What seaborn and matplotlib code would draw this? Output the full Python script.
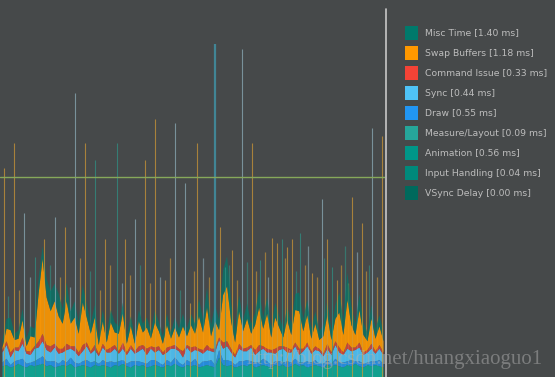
import numpy as np
import matplotlib
matplotlib.use("Agg")
import matplotlib.pyplot as plt
import seaborn as sns
from matplotlib.patches import Rectangle

# per-frame GPU timings (ms), stacked bottom -> top
animation = [0.9,1.0,0.8,0.9,1.1,0.9,0.8,1.0,0.9,1.0, 1.1,0.9,1.0,0.8,0.9,1.0,0.9,1.1,0.8,0.9,
             1.0,0.9,0.8,1.0,0.9,1.0,0.9,0.8,1.0,0.9, 1.1,0.9,0.8,1.0,0.9,1.0,0.8,0.9,1.0,0.9,
             0.8,1.0,0.9,1.1,0.9,0.8,1.0,0.9,1.0,0.8, 0.9,1.0,0.9,0.8,1.6,1.0,0.9,1.0,0.8,0.9,
             1.0,0.9,1.1,0.8,0.9,1.0,0.9,0.8,1.0,0.9, 1.0,0.8,0.9,1.1,0.9,1.0,0.8,0.9,1.0,0.9,
             0.8,1.0,0.9,1.0,0.9,0.8,1.0,0.9,1.1,0.9, 0.8,1.0,0.9,1.0,0.9,0.8]
draw = [0.3,0.5,0.2,0.4,0.3,0.6,0.3,0.2,0.4,0.5, 0.6,0.4,0.3,0.5,0.2,0.4,0.3,0.5,0.4,0.2,
        0.3,0.5,0.4,0.3,0.2,0.4,0.3,0.5,0.2,0.4, 0.3,0.2,0.5,0.3,0.4,0.2,0.3,0.5,0.4,0.3,
        0.2,0.4,0.3,0.5,0.3,0.2,0.4,0.3,0.5,0.2, 0.4,0.3,0.5,0.2,0.6,0.4,0.5,0.3,0.2,0.4,
        0.3,0.5,0.2,0.4,0.3,0.5,0.4,0.2,0.3,0.4, 0.2,0.5,0.3,0.4,0.3,0.2,0.5,0.3,0.4,0.2,
        0.3,0.4,0.2,0.5,0.3,0.4,0.3,0.5,0.2,0.4, 0.3,0.2,0.4,0.3,0.5,0.3]
sync = [0.8,1.1,0.6,0.9,0.7,1.2,0.8,0.6,1.0,0.9, 1.2,0.9,0.7,1.1,0.8,0.6,1.0,0.7,0.9,0.6,
        0.8,1.1,0.7,0.9,0.6,1.0,0.8,0.7,1.1,0.6, 0.9,0.7,1.0,0.6,0.8,1.1,0.7,0.9,0.6,1.0,
        0.8,0.6,1.1,0.7,0.9,0.6,1.0,0.8,0.7,1.1, 0.6,0.9,0.7,1.0,0.8,0.9,1.1,0.7,0.6,1.0,
        0.8,0.7,1.1,0.6,0.9,0.8,0.7,1.0,0.6,0.9, 1.1,0.7,0.8,1.0,0.6,0.9,1.2,0.7,0.8,1.0,
        0.6,0.9,0.7,1.1,0.8,0.6,1.0,0.7,0.9,1.1, 0.7,0.8,1.0,0.6,0.9,0.7]
command = [0.2,0.3,0.4,0.2,0.3,0.5,0.2,0.3,0.2,0.5, 0.6,0.4,0.5,0.3,0.4,0.3,0.5,0.2,0.4,0.3,
           0.5,0.3,0.2,0.4,0.2,0.3,0.2,0.4,0.3,0.2, 0.5,0.2,0.3,0.2,0.4,0.3,0.5,0.2,0.4,0.3,
           0.2,0.4,0.2,0.3,0.2,0.5,0.2,0.4,0.3,0.2, 0.3,0.4,0.2,0.3,0.2,0.5,0.4,0.3,0.2,0.4,
           0.2,0.3,0.2,0.4,0.5,0.2,0.3,0.2,0.4,0.3, 0.2,0.4,0.2,0.3,0.5,0.2,0.3,0.2,0.3,0.2,
           0.2,0.4,0.2,0.3,0.4,0.2,0.5,0.3,0.2,0.4, 0.2,0.2,0.4,0.2,0.3,0.2]
swap = [0.2,1.0,1.8,0.6,0.7,1.4,0.4,1.2,0.7,3.8, 6.0,3.8,2.8,3.4,2.6,2.0,3.4,1.8,2.3,1.5,
        3.4,2.0,1.4,2.2,0.7,1.8,0.6,2.0,1.0,1.4, 2.3,0.7,1.5,0.6,2.0,1.0,1.7,0.6,2.0,1.2,
        0.7,1.8,0.6,1.4,0.9,2.0,0.7,1.8,1.0,2.6, 1.4,3.0,1.0,2.2,0.6,3.8,4.4,2.2,1.0,2.6,
        1.4,2.3,0.9,2.0,3.0,1.4,2.8,1.0,2.5,1.5, 0.7,2.2,1.2,2.6,3.0,1.4,2.2,1.0,1.8,0.7,
        1.4,2.3,1.0,1.8,2.8,1.4,3.4,1.8,1.0,2.6, 1.4,0.7,2.0,1.0,1.5,0.9]
misc = [0.6,0.8,1.0,0.5,0.7,0.9,0.6,0.8,0.7,1.2, 1.0,1.5,1.6,1.4,1.8,1.2,1.5,1.0,1.3,0.9,
        1.4,1.1,0.8,1.0,0.6,0.9,0.7,1.0,0.8,0.6, 0.9,0.7,0.8,0.5,0.9,0.7,0.8,0.6,1.0,0.7,
        0.6,0.9,0.5,0.8,0.7,1.0,0.6,0.9,0.8,1.4, 1.0,1.6,0.9,1.3,0.8,2.0,2.4,1.5,1.0,1.3,
        0.9,1.2,0.8,1.0,1.4,0.9,1.3,0.8,1.2,0.9, 0.7,1.1,0.9,1.3,1.5,1.0,1.2,0.8,1.0,0.7,
        0.9,1.2,0.8,1.1,1.6,1.2,2.2,1.5,0.9,1.3, 1.0,0.7,1.1,0.8,0.9,0.7]

# slow frames (frame index, total ms, dominant colour)
spike_frame = [0.5, 3.0, 5.5, 8.2, 10.5, 13.2, 15.7, 18.2, 20.7, 23.2, 25.7, 28.7, 30.7, 33.2,
               35.7, 38.2, 40.6, 43.1, 45.6, 46.9, 48.6, 53.1, 54.4, 55.6, 57.4, 59.8, 62.3,
               64.3, 67.3, 68.6, 69.8, 71.1, 72.3, 74.3, 77.3, 79.8, 81.0, 82.3, 83.5, 87.3,
               89.8, 92.3, 94.8]
spike_ms = [16.7, 18.7, 13.1, 9.6, 11.0, 12.8, 12.0, 22.7, 18.7, 17.4, 11.0, 18.7, 11.0, 12.6,
            17.4, 20.6, 7.8, 20.3, 15.5, 5.9, 18.7, 26.6, 12.0, 8.8, 10.2, 26.2, 18.7,
            9.4, 11.1, 10.7, 11.0, 10.4, 11.0, 11.5, 8.3, 14.2, 11.0, 8.8, 7.8, 14.4,
            12.3, 19.9, 19.3]
spike_kind = ['o', 'o', 'b', 't', 'o', 'b', 'o', 'b', 'o', 't', 'o', 't', 'o', 'b',
              'o', 'o', 'o', 'b', 'b', 'o', 'o', 'm', 'o', 't', 'o', 'b', 'o',
              't', 'o', 'o', 't', 'o', 'o', 't', 'o', 'b', 'o', 't', 'o', 'o',
              'o', 'b', 'o']

# shorter janky frames inside the dense band
minor_frame = [1.5, 4.2, 7.0, 9.5, 12.0, 14.5, 17.0, 19.5, 22.0, 24.5, 27.0, 29.8, 32.0, 34.5,
               37.0, 39.5, 42.0, 44.5, 47.8, 50.2, 51.5, 56.5, 58.6, 61.0, 63.3, 65.5, 66.3,
               70.5, 73.3, 75.5, 76.3, 78.5, 80.3, 84.5, 85.5, 86.3, 88.5, 90.8, 91.5, 93.5]
minor_ms = [6.5, 7.0, 8.0, 7.5, 9.0, 8.0, 7.2, 9.5, 8.5, 7.0, 9.0, 7.5, 8.2, 9.0,
            7.5, 8.0, 9.5, 7.0, 8.5, 9.5, 8.0, 9.0, 7.8, 9.2, 8.5, 10.0, 8.0,
            9.5, 8.5, 9.0, 10.5, 8.0, 9.5, 9.0, 10.5, 7.5, 10.0, 8.5, 9.0, 8.0]
minor_kind = ['t', 'o', 'b', 'o', 't', 'o', 'b', 'o', 't', 'o', 'o', 'b', 'o', 't',
              'o', 'b', 'o', 't', 'o', 'b', 'o', 't', 'o', 't', 'o', 'o', 'b',
              'o', 't', 'o', 'b', 'o', 't', 'o', 't', 'o', 'b', 'o', 't', 'o']

legend_names = ['Misc Time', 'Swap Buffers', 'Command Issue', 'Sync', 'Draw',
                'Measure/Layout', 'Animation', 'Input Handling', 'VSync Delay']
legend_ms = [1.40, 1.18, 0.33, 0.44, 0.55, 0.09, 0.56, 0.04, 0.00]
legend_colors = ['#00796b', '#ff9800', '#f44336', '#4fc3f7', '#2196f3',
                 '#26a69a', '#009688', '#00897b', '#00695c']
threshold_ms = 16.0

bg = '#46494a'
sns.set_theme(style='dark', rc={'figure.facecolor': bg, 'axes.facecolor': bg})
plt.rcParams['font.family'] = ['DejaVu Sans']

W, H = 555, 377
fig = plt.figure(figsize=(W / 100, H / 100), dpi=100)
ax = fig.add_axes([0, 0, 385 / W, 1])
ax.set_facecolor(bg)

kind_color = {'o': '#d39a35', 'b': '#8fb0bd', 't': '#2f9486', 'm': '#3f9fb6'}
for f, ms, k in zip(minor_frame, minor_ms, minor_kind):
    ax.vlines(f, 0, ms, colors=kind_color[k], linewidth=0.9, alpha=0.6, zorder=1)

frames = np.arange(len(swap))
layers = ax.stackplot(frames, animation, draw, sync, command, swap, misc,
                      colors=['#11a08f', '#2196f3', '#4fc3f7', '#f44336', '#ff9800', '#00796b'],
                      linewidth=0, zorder=2)
for poly, a in zip(layers, [1.0, 0.85, 0.9, 0.7, 0.9, 0.7]):
    poly.set_alpha(a)

for f, ms, k in zip(spike_frame, spike_ms, spike_kind):
    lw = 1.6 if k == 'm' else 0.8
    ax.vlines(f, 0, ms, colors=kind_color[k], linewidth=lw, alpha=0.7, zorder=3)

ax.axhline(threshold_ms, color='#86a85a', linewidth=1.0, zorder=4)
ax.set_xlim(-0.5, len(swap) - 0.5)
ax.set_ylim(0, 30.16)
ax.set_xticks([])
ax.set_yticks([])
for s in ax.spines.values():
    s.set_visible(False)

# separator between graph and legend
fig.add_artist(plt.Line2D([385.5 / W, 385.5 / W], [0, 1 - 9 / H], color='#c8c8c8',
                          linewidth=1.2, transform=fig.transFigure))

for i, (name, ms, c) in enumerate(zip(legend_names, legend_ms, legend_colors)):
    yc = 33 + 20 * i
    fig.add_artist(Rectangle((405 / W, 1 - (yc + 7) / H), 13 / W, 14 / H,
                             facecolor=c, edgecolor='none', transform=fig.transFigure))
    fig.text(425 / W, 1 - yc / H, f'{name} [{ms:.2f} ms]', color='#bdbdbd',
             fontsize=6.7, va='center', ha='left')

fig.text(543 / W, 1 - 364 / H, 'http://blog.csdn.net/huangxiaoguo1', color='#b0b0b0',
         alpha=0.5, fontsize=15, family=['Liberation Serif', 'DejaVu Serif'],
         ha='right', va='baseline', zorder=10)

fig.savefig('out.png', dpi=100, facecolor=bg)
